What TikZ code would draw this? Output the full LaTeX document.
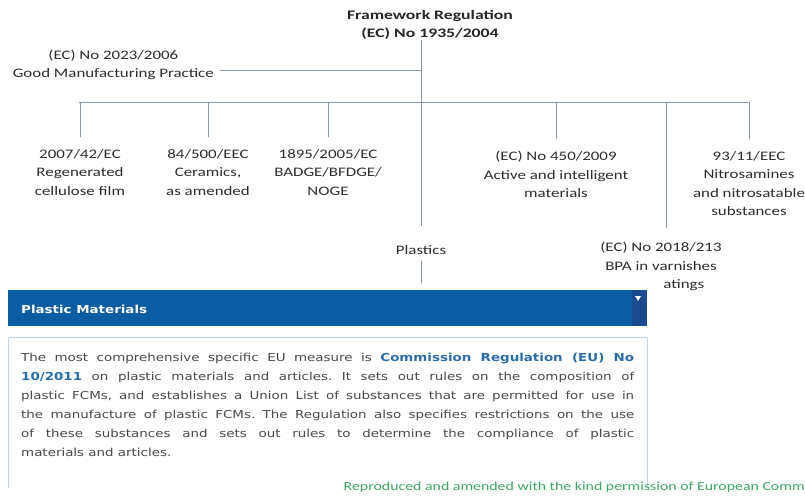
\documentclass[tikz,border=0pt]{standalone}
\usepackage{fontspec}
\setmainfont{Carlito}
\newfontfamily\labfont[FakeStretch=1.3]{Carlito}
\newfontfamily\titlefont[FakeStretch=1.36]{Carlito}
\newfontfamily\parafont[FakeStretch=1.22]{DejaVu Sans}
\frenchspacing
\definecolor{linegray}{HTML}{8A98A8}
\definecolor{labtext}{HTML}{2E2E2E}
\definecolor{hdrblue}{HTML}{0B5DA3}
\definecolor{hdrdark}{HTML}{1B4A8E}
\definecolor{boxline}{HTML}{C3D6E6}
\definecolor{paratext}{HTML}{4A4A4A}
\definecolor{linkblue}{HTML}{2B6DAA}
\definecolor{creditgreen}{HTML}{3FA865}
\tikzset{
  conn/.style={draw=linegray, line width=0.9pt},
  lab/.style={font=\fontsize{13}{18.5}\selectfont\labfont, text=labtext, align=center, inner sep=0pt},
  child/.style={lab, anchor=north},
}
\begin{document}
\begin{tikzpicture}[x=1pt,y=-1pt]
\useasboundingbox[fill=white] (0,0) rectangle (805,500);

% top of the tree
\node[lab, font=\fontsize{13}{18}\selectfont\titlefont\bfseries, text=black!85] (fw) at (430,25)
  {Framework Regulation\\(EC) No 1935/2004};
\node[lab, anchor=east] (gmp) at (214,65) {(EC) No 2023/2006\\Good Manufacturing Practice};
\node[lab] (pl) at (421,250) {Plastics};

% bus ends
\coordinate (busL) at (79,102);
\coordinate (busR) at (748,102);

% children
\node[child] (c1) at (80,149)  {2007/42/EC\\Regenerated\\cellulose film};
\node[child] (c2) at (208,149) {84/500/EEC\\Ceramics,\\as amended};
\node[child] (c3) at (328,149) {1895/2005/EC\\BADGE/BFDGE/\\NOGE};
\node[child] (c4) at (556,151) {(EC) No 450/2009\\Active and intelligent\\materials};
\node[child] (c5) at (749,151) {93/11/EEC\\Nitrosamines\\and nitrosatable\\substances};
\node[child] (c6) at (661,242) {(EC) No 2018/213\\BPA in varnishes\\\phantom{and co}atings};

% connectors
\draw[conn] (fw.south -| pl) -- ([yshift=19pt]pl.north);
\draw[conn] ([yshift=-5pt]gmp.east) ++(6,0) coordinate (g0) -- (g0 -| pl);
\draw[conn] (busL) -- (busR);
\foreach \c in {c1,c2,c3,c4,c5}
  \draw[conn] (\c.north |- busL) -- ([yshift=12pt]\c.north);
\draw[conn] (busL -| c6.north) ++(5,0) coordinate (b6) -- ([yshift=14pt]c6.north -| b6);

% header bar
\fill[hdrblue] (8,290) rectangle (647,326);
\fill[hdrdark] (632,290) rectangle (647,326);
\fill[white] (635,296) -- (641,296) -- (638,301) -- cycle;
\node[anchor=west, inner sep=0pt, text=white, font=\fontsize{11}{13}\selectfont\parafont\bfseries] (hdr) at (21,309) {Plastic Materials};
\coordinate (hdrtop) at (421,290);
\draw[conn] ([yshift=-6pt]pl.south) -- ([yshift=7pt]hdrtop);

% text box (open at the bottom)
\draw[boxline, line width=0.9pt] (8,488) -- (8,337) -- (647,337) -- (647,488);
\node[anchor=north west, inner sep=0pt, text width=613pt, align=justify, text=paratext,
      font=\fontsize{11}{19}\selectfont\parafont] (para) at (21,353) {%
The most comprehensive specific EU measure is \textcolor{linkblue}{\bfseries Commission Regulation (EU) No}\linebreak
\textcolor{linkblue}{\bfseries 10/2011} on plastic materials and articles. It sets out rules on the composition of\linebreak
plastic FCMs, and establishes a Union List of substances that are permitted for use in\linebreak
the manufacture of plastic FCMs. The Regulation also specifies restrictions on the use\linebreak
of these substances and sets out rules to determine the compliance of plastic\linebreak
materials and articles.};

% credit line
\node[anchor=east, inner sep=0pt, text=creditgreen, font=\fontsize{12.2}{14}\selectfont\labfont] (credit) at (805,487)
  {Reproduced and amended with the kind permission of European Comm};
\end{tikzpicture}
\end{document}
